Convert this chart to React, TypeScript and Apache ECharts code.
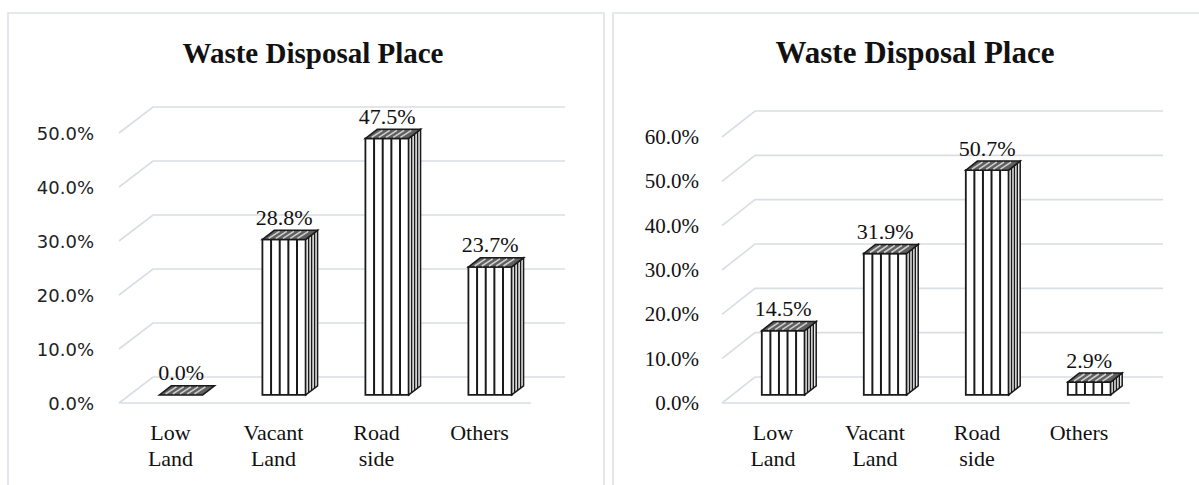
import React, { useEffect, useRef } from "react";
import * as echarts from "echarts";

const categories = ["Low\nLand", "Vacant\nLand", "Road\nside", "Others"];
const leftValues = [0.0, 28.8, 47.5, 23.7];
const rightValues = [14.5, 31.9, 50.7, 2.9];
const leftTicks = [0, 10, 20, 30, 40, 50];
const rightTicks = [0, 10, 20, 30, 40, 50, 60];
const chartTitle = "Waste Disposal Place";

const GRID_COLOR = "#d9dde4";
const INK = "#1a1a1a";

function makeGridRender(depthX: number, depthY: number) {
  return (params: any, api: any) => {
    const v = api.value(1);
    const cs = params.coordSys;
    const y = api.coord([0, v])[1];
    const children: any[] = [
      {
        type: "polyline",
        shape: {
          points: [
            [cs.x, y],
            [cs.x + depthX, y + depthY],
            [cs.x + cs.width + depthX, y + depthY],
          ],
        },
        style: { stroke: GRID_COLOR, lineWidth: 1.6, fill: "none" },
      },
    ];
    if (v === 0) {
      children.push({
        type: "line",
        shape: { x1: cs.x, y1: y, x2: cs.x + cs.width, y2: y },
        style: { stroke: GRID_COLOR, lineWidth: 1.6 },
      });
    }
    return { type: "group", children };
  };
}

function makeBarRender(depthX: number, depthY: number, labelFont: number) {
  return (params: any, api: any) => {
    const i = api.value(0);
    const v = api.value(1);
    const b = api.coord([i, 0]);
    const t = api.coord([i, v]);
    const band = api.size([1, 0])[0];
    const w = band * 0.42;
    const f1 = 0.31;
    const f2 = 0.66;
    const ox = depthX * f1;
    const oy = depthY * f1;
    const sx = depthX * (f2 - f1);
    const sy = depthY * (f2 - f1);
    const cx = b[0] + ox;
    const x0 = cx - w / 2;
    const x1 = cx + w / 2;
    const yb = b[1] + oy;
    const yt = t[1] + oy;
    const children: any[] = [];
    if (yb - yt > 0.5) {
      children.push({
        type: "rect",
        shape: { x: x0, y: yt, width: w, height: yb - yt },
        style: { fill: "#ffffff", stroke: INK, lineWidth: 1.8 },
      });
      for (let k = 1; k < 5; k++) {
        const lx = x0 + (w * k) / 5;
        children.push({
          type: "line",
          shape: { x1: lx, y1: yt, x2: lx, y2: yb },
          style: { stroke: INK, lineWidth: 2 },
        });
      }
      children.push({
        type: "polygon",
        shape: {
          points: [
            [x1, yb],
            [x1 + sx, yb + sy],
            [x1 + sx, yt + sy],
            [x1, yt],
          ],
        },
        style: { fill: "#e8e8e8", stroke: INK, lineWidth: 1.5 },
      });
      for (let k = 1; k < 4; k++) {
        const lx = x1 + (sx * k) / 4;
        children.push({
          type: "line",
          shape: { x1: lx, y1: yb + (sy * k) / 4, x2: lx, y2: yt + (sy * k) / 4 },
          style: { stroke: INK, lineWidth: 1.4 },
        });
      }
    }
    children.push({
      type: "polygon",
      shape: {
        points: [
          [x0, yt],
          [x1, yt],
          [x1 + sx, yt + sy],
          [x0 + sx, yt + sy],
        ],
      },
      style: { fill: "#5f5f5f", stroke: INK, lineWidth: 1.5 },
    });
    for (let k = 1; k < 6; k++) {
      const px = x0 + (w * k) / 6;
      children.push({
        type: "line",
        shape: { x1: px - 1, y1: yt - 1, x2: px + sx - 2, y2: yt + sy + 1 },
        style: { stroke: "#cfcfcf", lineWidth: 1.6 },
      });
    }
    children.push({
      type: "text",
      style: {
        text: v.toFixed(1) + "%",
        x: cx,
        y: yt - 22,
        align: "center",
        verticalAlign: "middle",
        fontSize: labelFont,
        fontFamily: "Liberation Serif",
        fill: "#111111",
      },
    });
    return { type: "group", children };
  };
}

export default function App() {
  const ref = useRef<HTMLDivElement>(null);
  useEffect(() => {
    if (!ref.current) return;
    const chart = echarts.init(ref.current, undefined, { renderer: "svg" });
    const xAxisCommon = {
      type: "category" as const,
      data: categories,
      axisLine: { show: false },
      axisTick: { show: false },
      axisLabel: {
        interval: 0,
        fontFamily: "Liberation Serif",
        fontSize: 22,
        color: "#111111",
        lineHeight: 26,
        margin: 16,
      },
    };
    chart.setOption({
      animation: false,
      backgroundColor: "#ffffff",
      title: [
        {
          text: chartTitle,
          left: 308,
          top: 33,
          textAlign: "center",
          textStyle: { fontFamily: "Liberation Serif", fontWeight: "bold", fontSize: 29, color: "#111111" },
        },
        {
          text: chartTitle,
          left: 910,
          top: 32,
          textAlign: "center",
          textStyle: { fontFamily: "Liberation Serif", fontWeight: "bold", fontSize: 31, color: "#111111" },
        },
      ],
      graphic: [
        {
          type: "rect",
          shape: { x: 8, y: 13, width: 596, height: 490 },
          style: { fill: "none", stroke: "#dde1e6", lineWidth: 1.6 },
          silent: true,
        },
        {
          type: "rect",
          shape: { x: 613, y: 13, width: 600, height: 490 },
          style: { fill: "none", stroke: "#dde1e6", lineWidth: 1.6 },
          silent: true,
        },
      ],
      grid: [
        { left: 119, top: 133, width: 412, height: 270 },
        { left: 722, top: 137, width: 408, height: 266 },
      ],
      xAxis: [
        { ...xAxisCommon, gridIndex: 0 },
        { ...xAxisCommon, gridIndex: 1 },
      ],
      yAxis: [
        {
          type: "value",
          gridIndex: 0,
          min: leftTicks[0],
          max: leftTicks[leftTicks.length - 1],
          interval: 10,
          splitLine: { show: false },
          axisLine: { show: false },
          axisTick: { show: false },
          axisLabel: {
            formatter: (v: number) => v.toFixed(1) + "%",
            fontFamily: "DejaVu Sans",
            fontSize: 18,
            color: "#222222",
            margin: 25,
          },
        },
        {
          type: "value",
          gridIndex: 1,
          min: rightTicks[0],
          max: rightTicks[rightTicks.length - 1],
          interval: 10,
          splitLine: { show: false },
          axisLine: { show: false },
          axisTick: { show: false },
          axisLabel: {
            formatter: (v: number) => v.toFixed(1) + "%",
            fontFamily: "Liberation Serif",
            fontSize: 21,
            color: "#111111",
            margin: 23,
          },
        },
      ],
      series: [
        {
          type: "custom",
          name: "gridLeft",
          xAxisIndex: 0,
          yAxisIndex: 0,
          z: 1,
          clip: false,
          silent: true,
          encode: { x: 0, y: 1 },
          data: leftTicks.map((v) => [0, v]),
          renderItem: makeGridRender(34, -26),
        },
        {
          type: "custom",
          name: "gridRight",
          xAxisIndex: 1,
          yAxisIndex: 1,
          z: 1,
          clip: false,
          silent: true,
          encode: { x: 0, y: 1 },
          data: rightTicks.map((v) => [0, v]),
          renderItem: makeGridRender(33, -26),
        },
        {
          type: "custom",
          name: "Left",
          xAxisIndex: 0,
          yAxisIndex: 0,
          z: 3,
          clip: false,
          encode: { x: 0, y: 1 },
          data: leftValues.map((v, i) => [i, v]),
          renderItem: makeBarRender(34, -26, 22),
        },
        {
          type: "custom",
          name: "Right",
          xAxisIndex: 1,
          yAxisIndex: 1,
          z: 3,
          clip: false,
          encode: { x: 0, y: 1 },
          data: rightValues.map((v, i) => [i, v]),
          renderItem: makeBarRender(33, -26, 22),
        },
      ],
    });
    return () => chart.dispose();
  }, []);
  return (
    <div
      ref={ref}
      style={{ position: "fixed", left: 0, top: 0, width: 1199, height: 485, background: "#ffffff" }}
    />
  );
}
